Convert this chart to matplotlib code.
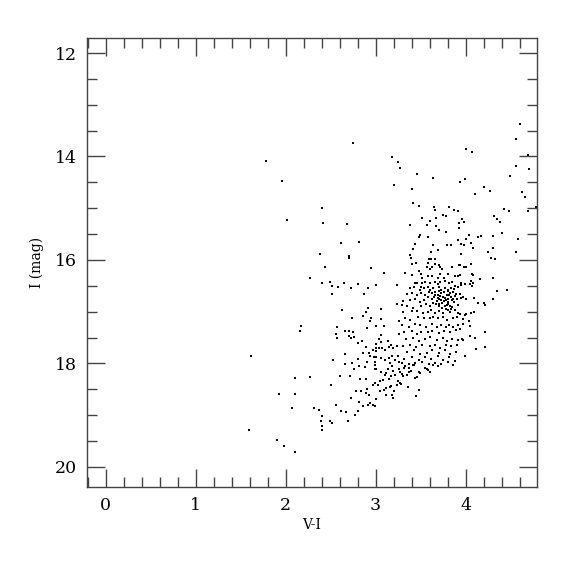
import matplotlib
matplotlib.use("Agg")
import matplotlib.pyplot as plt
from matplotlib.ticker import MultipleLocator

# (V-I, I) pairs, grouped by region
pts_outer = [
    (1.78,14.09),(1.96,14.48),(2.40,15.00),(2.02,15.23),(2.42,15.29),(2.38,15.88),
    (2.75,13.74),(3.18,14.01),(3.25,14.10),(3.27,14.22),(3.46,14.33),(3.20,14.56),(3.41,14.63),
    (3.42,14.90),(3.48,14.95),(3.52,15.18),(2.68,15.31),(3.38,15.33),(3.57,15.32),(3.49,15.52),
    (3.48,15.55),(3.58,15.56),(2.62,15.68),(2.82,15.65),(3.44,15.69),(3.42,15.79),(3.38,15.91),
    (3.39,15.96),(2.70,15.93),(2.71,15.96),(3.59,15.99),
    (4.60,13.37),(4.56,13.67),(4.00,13.85),(4.07,13.91),(4.69,13.97),(4.56,14.18),(4.70,14.25),
    (4.49,14.37),(3.64,14.42),(3.94,14.49),(3.99,14.43),(4.21,14.59),(4.27,14.67),(4.11,14.72),
    (4.63,14.68),(4.66,14.78),(4.78,14.98),(3.65,14.98),(3.82,14.98),(3.87,15.04),(3.92,15.06),
    (3.66,15.04),(4.43,15.02),(4.48,15.05),(4.69,15.05),(3.75,15.13),(3.78,15.16),(4.32,15.16),
    (4.35,15.20),(3.67,15.19),(3.96,15.20),(3.61,15.25),(4.38,15.27),(3.98,15.27),(3.93,15.29),
    (3.67,15.34),(3.93,15.38),(3.71,15.43),(3.78,15.46),(4.41,15.48),(4.04,15.51),(4.14,15.55),
    (4.17,15.54),(4.30,15.54),(4.01,15.60),(3.92,15.61),(4.58,15.59),(4.06,15.67),(3.64,15.72),
    (3.79,15.72),(3.84,15.72),(3.95,15.70),(3.98,15.72),(4.08,15.77),(4.31,15.76),(3.69,15.80),
    (3.62,15.84),(3.95,15.88),(4.25,15.85),(4.56,15.84),(4.28,15.97),(4.33,15.99),(3.66,15.98),
    (3.62,15.98),
]
pts_left = [
    (2.44,16.14),(2.27,16.34),(2.41,16.44),(2.49,16.43),(2.52,16.50),(2.58,16.52),(2.52,16.65),
    (2.17,17.28),(2.16,17.37),(2.57,17.29),(2.56,17.44),(2.57,17.50),(1.62,17.86),(2.53,17.94),
    (2.95,16.15),(3.09,16.26),(2.65,16.44),(2.81,16.46),(3.01,16.49),(3.24,16.48),(2.73,16.55),
    (2.92,16.54),(2.87,16.66),(3.24,16.85),(3.06,16.95),(2.92,16.93),(2.63,16.97),(2.89,17.00),
    (2.86,17.08),(2.74,17.13),(2.95,17.13),(2.94,17.19),(3.26,17.19),(3.06,17.15),(3.01,17.28),
    (3.09,17.28),(2.90,17.32),(2.66,17.37),(2.70,17.37),(2.75,17.39),(3.26,17.43),(2.71,17.47),
    (3.06,17.46),(2.73,17.51),(2.76,17.49),(3.04,17.52),(2.85,17.56),(3.14,17.56),(3.06,17.58),
    (2.81,17.61),(3.01,17.62),(3.17,17.64),(3.24,17.66),(3.01,17.70),(3.04,17.71),(3.07,17.71),
    (2.89,17.69),(3.15,17.69),(3.19,17.71),(2.66,17.82),(2.86,17.80),(2.97,17.74),(2.93,17.80),
    (3.01,17.77),(3.11,17.74),(3.18,17.86),(3.15,17.89),(3.25,17.86),(2.94,17.86),(2.98,17.88),
    (3.01,17.88),(2.81,17.92),(3.06,17.89),(3.10,17.93),(3.22,17.93),(2.74,18.00),(2.90,17.98),
    (2.99,17.98),(3.16,18.00),(3.26,17.98),(2.66,18.02),
]
pts_lower = [
    (2.51,18.42),(2.56,18.80),(2.49,19.12),(2.52,19.16),(2.61,18.24),(2.72,18.24),(2.76,18.11),
    (2.82,18.05),(2.88,18.07),(2.83,18.31),(2.89,18.31),(2.78,18.53),(2.84,18.53),(2.91,18.49),
    (2.89,18.57),(2.93,18.61),(2.73,18.67),(2.82,18.74),(2.86,18.82),(2.92,18.80),(2.94,18.76),
    (2.97,18.80),(2.99,18.83),(3.00,18.68),(2.62,18.92),(2.67,18.94),(2.81,18.93),(2.77,18.99),
    (2.69,19.12),(2.99,18.04),(2.99,18.10),(3.00,18.11),(3.18,18.06),(3.06,18.16),(3.12,18.18),
    (3.19,18.15),(3.26,18.11),(3.33,18.05),(3.32,18.08),(3.37,18.08),(3.42,18.04),(3.43,18.03),
    (3.55,18.08),(3.57,18.10),(3.58,18.13),(3.60,18.16),(3.05,18.35),(3.08,18.33),(2.97,18.42),
    (2.99,18.38),(3.03,18.42),(3.14,18.11),(3.17,18.25),(3.09,18.51),(3.05,18.54),(3.12,18.62),
    (3.18,18.61),(3.19,18.66),(3.12,18.48),(3.16,18.46),(3.17,18.43),(3.20,18.54),(3.11,18.22),
    (3.15,18.31),(3.22,18.22),(3.27,18.16),(3.29,18.20),(3.31,18.24),(3.25,18.35),(3.27,18.37),
    (3.28,18.40),(3.24,18.42),(3.35,18.22),(3.37,18.16),(3.39,18.14),(3.36,18.46),(3.44,18.29),
    (3.46,18.27),(3.48,18.16),(3.49,18.18),(3.48,18.51),(3.45,18.64),
    (2.11,18.29),(2.27,18.26),(1.93,18.60),(2.10,18.59),(2.07,18.86),(2.32,18.86),(2.37,18.91),
    (2.41,19.01),(2.39,19.12),(2.41,19.21),(2.40,19.28),(1.59,19.29),(1.91,19.49),(1.98,19.59),
    (2.10,19.72),(3.64,18.03),(3.69,18.05),(3.86,18.03),
]
pts_right = [
    (3.94,16.10),(3.98,16.14),(4.01,16.14),(4.06,16.08),(3.94,16.30),(4.07,16.27),(4.08,16.29),
    (4.30,16.35),(4.16,16.36),(4.06,16.40),(3.95,16.45),(3.95,16.49),(3.99,16.47),(4.05,16.47),
    (4.08,16.44),(4.07,16.51),(4.35,16.61),(4.46,16.59),(3.94,16.65),(3.95,16.73),(3.97,16.72),
    (4.01,16.76),(4.09,16.74),(4.31,16.75),(4.14,16.84),(4.20,16.84),(4.22,16.88),(3.94,17.04),
    (3.99,17.06),(4.01,17.04),(4.06,17.02),(4.09,17.00),(3.97,17.15),(4.04,17.19),(3.97,17.23),
    (4.05,17.28),(3.94,17.34),(4.22,17.40),(4.05,17.47),(4.10,17.50),(3.96,17.53),(3.97,17.55),
    (4.22,17.69),(4.12,17.73),(3.99,17.86),
]
pts_core = [
    (3.41,16.08),(3.45,16.05),(3.58,16.06),(3.66,16.08),
    (3.33,16.26),(3.41,16.30),(3.48,16.21),(3.50,16.28),(3.57,16.13),(3.61,16.17),(3.63,16.13),
    (3.70,16.10),(3.72,16.13),(3.74,16.17),(3.85,16.13),(3.93,16.10),
    (3.52,16.34),(3.58,16.31),(3.63,16.32),(3.69,16.35),(3.72,16.28),(3.76,16.35),(3.80,16.27),
    (3.88,16.31),(3.92,16.32),
    (3.44,16.45),(3.46,16.44),(3.52,16.45),(3.55,16.43),(3.61,16.45),(3.66,16.43),(3.69,16.47),
    (3.72,16.43),(3.77,16.41),(3.82,16.45),(3.85,16.43),(3.88,16.50),
    (3.38,16.55),(3.43,16.53),(3.49,16.58),(3.51,16.53),(3.54,16.55),(3.58,16.53),(3.61,16.58),
    (3.64,16.55),(3.70,16.53),(3.73,16.58),(3.77,16.55),(3.81,16.58),(3.84,16.54),(3.87,16.57),
    (3.92,16.53),
    (3.35,16.66),(3.41,16.64),(3.46,16.68),(3.51,16.64),(3.55,16.67),(3.59,16.62),(3.63,16.64),
    (3.66,16.62),(3.69,16.67),(3.73,16.64),(3.76,16.62),(3.79,16.67),(3.83,16.64),(3.86,16.62),
    (3.89,16.66),
    (3.31,16.80),(3.38,16.77),(3.44,16.75),(3.49,16.81),(3.54,16.77),(3.58,16.72),(3.63,16.76),
    (3.65,16.71),(3.68,16.79),(3.71,16.75),(3.75,16.71),(3.78,16.77),(3.81,16.75),(3.84,16.71),
    (3.86,16.76),(3.90,16.75),
    (3.29,16.88),(3.35,16.89),(3.42,16.92),(3.50,16.89),(3.56,16.86),(3.61,16.90),(3.64,16.84),
    (3.67,16.86),(3.70,16.90),(3.74,16.84),(3.77,16.89),(3.81,16.85),(3.85,16.91),(3.87,16.82),
    (3.92,16.88),
    (3.31,17.00),(3.41,16.99),(3.46,16.98),(3.53,17.02),(3.58,17.00),(3.62,16.97),(3.66,17.02),
    (3.71,16.99),(3.75,17.03),(3.80,16.97),(3.83,17.00),(3.88,16.97),(3.92,17.03),
    (3.33,17.12),(3.38,17.16),(3.47,17.10),(3.54,17.13),(3.60,17.12),(3.64,17.10),(3.69,17.13),
    (3.75,17.10),(3.79,17.16),(3.86,17.12),(3.91,17.10),
    (3.29,17.26),(3.37,17.29),(3.44,17.24),(3.49,17.26),(3.56,17.29),(3.63,17.24),(3.68,17.29),
    (3.73,17.26),(3.78,17.30),(3.82,17.25),(3.86,17.30),(3.92,17.26),
    (3.32,17.40),(3.41,17.38),(3.46,17.43),(3.51,17.39),(3.58,17.40),(3.63,17.38),(3.70,17.42),
    (3.76,17.38),(3.83,17.40),(3.89,17.35),
    (3.34,17.53),(3.42,17.51),(3.48,17.56),(3.55,17.52),(3.61,17.49),(3.68,17.55),(3.75,17.51),
    (3.79,17.57),(3.85,17.52),(3.92,17.55),
    (3.30,17.67),(3.38,17.65),(3.45,17.69),(3.52,17.64),(3.61,17.67),(3.66,17.65),(3.72,17.70),
    (3.78,17.64),(3.84,17.67),(3.90,17.65),
    (3.35,17.78),(3.43,17.75),(3.49,17.82),(3.57,17.79),(3.63,17.74),(3.70,17.80),(3.77,17.75),
    (3.83,17.82),(3.89,17.78),
    (3.32,17.91),(3.41,17.88),(3.48,17.93),(3.55,17.87),(3.62,17.91),(3.69,17.86),(3.75,17.93),
    (3.82,17.88),(3.88,17.96),
    (3.29,18.00),(3.37,18.02),(3.44,18.00),(3.52,17.98),(3.59,18.02),(3.66,18.00),(3.73,18.02),
    (3.81,17.98),
    (3.72,16.70),(3.76,16.80),(3.80,16.82),(3.83,16.90),(3.78,16.95),(3.74,16.92),(3.69,16.73),
    (3.85,16.78),(3.80,16.60),(3.70,16.60),(3.66,16.68),(3.88,16.70),(3.82,16.68),(3.77,16.73),
    (3.73,16.77),(3.79,16.88),(3.84,16.95),(3.71,16.85),
]

all_pts = pts_outer + pts_left + pts_lower + pts_right + pts_core
vi = [p[0] for p in all_pts]
imag = [p[1] for p in all_pts]

x_ticks = [0, 1, 2, 3, 4]
y_ticks = [12, 14, 16, 18, 20]

plt.rcParams['font.family'] = ['DejaVu Serif']
fig = plt.figure(figsize=(5.75, 5.75), dpi=100)
ax = fig.add_axes([0.1513, 0.1530, 0.7826, 0.7809])
ax.scatter(vi, imag, s=2.4, marker='s', c='black', linewidths=0)
ax.set_xlim(-0.206, 4.794)
ax.set_ylim(20.39, 11.71)
ax.set_xticks(x_ticks)
ax.set_yticks(y_ticks)
ax.xaxis.set_minor_locator(MultipleLocator(0.2))
ax.yaxis.set_minor_locator(MultipleLocator(0.5))
col = '#444444'
for s in ax.spines.values():
    s.set_color(col)
    s.set_linewidth(1.0)
ax.tick_params(which='both', direction='in', top=True, right=True, color=col, width=1.0)
ax.tick_params(which='major', length=13, labelsize=12.5, pad=7)
ax.tick_params(which='minor', length=7)
ax.set_xlabel('V-I', fontsize=10, labelpad=3)
ax.set_ylabel('I (mag)', fontsize=10, labelpad=8)
fig.savefig('out.png', dpi=100)
